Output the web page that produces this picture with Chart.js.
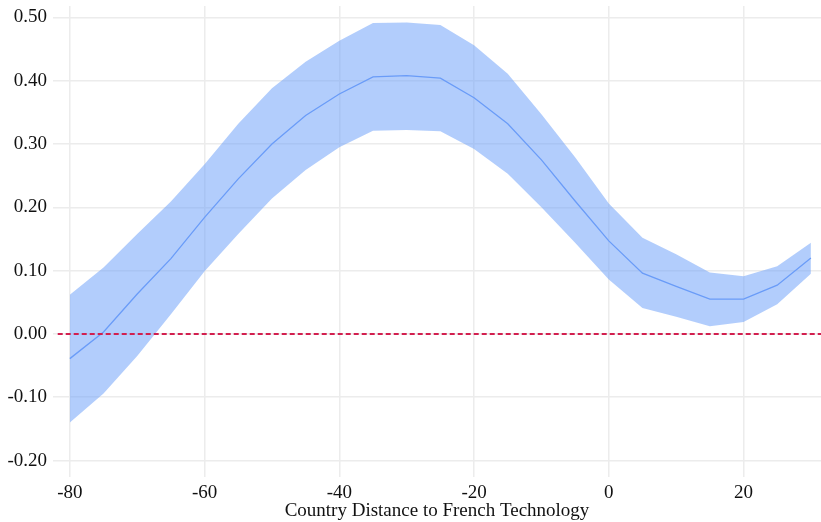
<!DOCTYPE html>
<html>
<head>
<meta charset="utf-8">
<script src="https://cdn.jsdelivr.net/npm/chart.js@4"></script>
<style>
  html, body { margin: 0; padding: 0; background: #fff; }
  #wrap { width: 821px; height: 522px; }
</style>
</head>
<body>
<div id="wrap"><canvas id="c" width="821" height="522"></canvas></div>
<script>
const distance = [-80, -75, -70, -65, -60, -55, -50, -45, -40, -35, -30, -25, -20, -15, -10, -5, 0, 5, 10, 15, 20, 25, 30];
const estimate = [-0.039, 0.003, 0.063, 0.119, 0.184, 0.245, 0.300, 0.345, 0.379, 0.406, 0.408, 0.404, 0.373, 0.332, 0.275, 0.210, 0.147, 0.096, 0.075, 0.055, 0.055, 0.077, 0.120];
const upper = [0.062, 0.105, 0.158, 0.209, 0.268, 0.332, 0.388, 0.430, 0.463, 0.491, 0.492, 0.488, 0.456, 0.411, 0.347, 0.279, 0.206, 0.152, 0.126, 0.097, 0.091, 0.107, 0.144];
const lower = [-0.140, -0.094, -0.035, 0.031, 0.099, 0.158, 0.214, 0.259, 0.295, 0.321, 0.322, 0.320, 0.292, 0.253, 0.200, 0.144, 0.086, 0.041, 0.027, 0.012, 0.019, 0.047, 0.095];
const xTicks = [-80, -60, -40, -20, 0, 20];
const yTicks = [-0.2, -0.1, 0, 0.1, 0.2, 0.3, 0.4, 0.5];
const zeroLine = [[-81.8, 0], [31.5, 0]];

const pts = (ys) => distance.map((x, i) => ({ x, y: ys[i] }));
const font = { family: "'Liberation Serif', 'Times New Roman', serif", size: 19 };
const grid = { color: "#ececec", lineWidth: 1.5, drawTicks: false };

new Chart(document.getElementById("c"), {
  type: "line",
  data: {
    datasets: [
      { data: pts(upper), borderWidth: 0, pointRadius: 0, backgroundColor: "rgba(110, 160, 250, 0.53)", fill: "+1", order: 3 },
      { data: pts(lower), borderWidth: 0, pointRadius: 0, fill: false, order: 3 },
      { data: pts(estimate), borderColor: "#6a9cf8", borderWidth: 1.3, pointRadius: 0, fill: false, order: 2 },
      { data: zeroLine.map(([x, y]) => ({ x, y })), borderColor: "#d21f4f", borderWidth: 2, borderDash: [5, 3], pointRadius: 0, fill: false, order: 1 }
    ]
  },
  options: {
    responsive: false,
    animation: false,
    layout: { padding: { top: 6, right: 0, bottom: 0, left: 0 } },
    plugins: { legend: { display: false }, tooltip: { enabled: false } },
    scales: {
      x: {
        type: "linear",
        min: -82.5,
        max: 31.5,
        border: { display: false },
        grid,
        afterBuildTicks: (s) => { s.ticks = xTicks.map((v) => ({ value: v })); },
        afterFit: (s) => { s.height = 45; s.paddingLeft = 0; s.paddingRight = 0; },
        ticks: { color: "#111", font, padding: 5 },
        title: { display: true, text: "Country Distance to French Technology", color: "#111", font, padding: 0 }
      },
      y: {
        min: -0.226,
        max: 0.518,
        border: { display: false },
        grid,
        afterBuildTicks: (s) => { s.ticks = yTicks.map((v) => ({ value: v })); },
        afterFit: (s) => { s.width = 53; s.paddingTop = 0; s.paddingBottom = 0; },
        ticks: { color: "#111", font, padding: 6, callback: (v) => v.toFixed(2) }
      }
    }
  }
});
</script>
</body>
</html>
